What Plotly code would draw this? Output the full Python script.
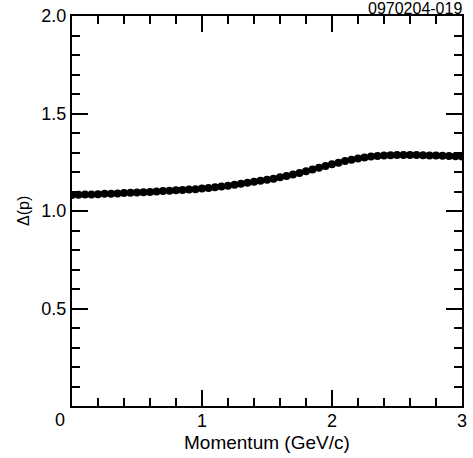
import plotly.graph_objects as go

momentum = [0.00, 0.05, 0.10, 0.15, 0.20, 0.25, 0.30, 0.35, 0.40, 0.45,
            0.50, 0.55, 0.60, 0.65, 0.70, 0.75, 0.80, 0.85, 0.90, 0.95,
            1.00, 1.05, 1.10, 1.15, 1.20, 1.25, 1.30, 1.35, 1.40, 1.45,
            1.50, 1.55, 1.60, 1.65, 1.70, 1.75, 1.80, 1.85, 1.90, 1.95,
            2.00, 2.05, 2.10, 2.15, 2.20, 2.25, 2.30, 2.35, 2.40, 2.45,
            2.50, 2.55, 2.60, 2.65, 2.70, 2.75, 2.80, 2.85, 2.90, 2.95, 3.00]
delta = [1.082, 1.083, 1.084, 1.085, 1.086, 1.088, 1.089, 1.090, 1.092, 1.093,
         1.095, 1.096, 1.098, 1.100, 1.102, 1.104, 1.106, 1.108, 1.110, 1.112,
         1.115, 1.118, 1.122, 1.126, 1.130, 1.135, 1.140, 1.145, 1.150, 1.155,
         1.160, 1.166, 1.173, 1.180, 1.187, 1.195, 1.204, 1.213, 1.222, 1.231,
         1.240, 1.248, 1.256, 1.263, 1.269, 1.275, 1.279, 1.282, 1.285, 1.286,
         1.287, 1.287, 1.287, 1.287, 1.286, 1.285, 1.284, 1.283, 1.282, 1.281, 1.280]

x_tickvals = [1, 2, 3]
x_ticktext = ["1", "2", "3"]
y_tickvals = [0.5, 1.0, 1.5, 2.0]
y_ticktext = ["0.5", "1.0", "1.5", "2.0"]

FONT = "Liberation Sans, Arial, Helvetica, sans-serif"

fig = go.Figure()
fig.add_trace(go.Scatter(
    x=momentum, y=delta, mode="markers",
    marker=dict(color="black", size=8, line=dict(width=0)),
    showlegend=False,
))

axis_common = dict(
    showline=True, linecolor="black", linewidth=2, mirror="allticks",
    ticks="inside", ticklen=16, tickwidth=1.5, tickcolor="black",
    showgrid=False, zeroline=False, automargin=False,
    tickfont=dict(family=FONT, size=18, color="black"),
)

fig.update_layout(
    template="none",
    width=473, height=458,
    margin=dict(l=72, r=11, t=16, b=52),
    paper_bgcolor="white", plot_bgcolor="white",
    xaxis=dict(
        range=[0, 3], tickvals=x_tickvals, ticktext=x_ticktext, ticklabelstandoff=-3,
        minor=dict(dtick=0.2, tick0=0, ticks="inside", ticklen=8, tickwidth=1.5, tickcolor="black"),
        **axis_common,
    ),
    yaxis=dict(
        range=[0, 2], tickvals=y_tickvals, ticktext=y_ticktext,
        minor=dict(dtick=0.1, tick0=0, ticks="inside", ticklen=8, tickwidth=1.5, tickcolor="black"),
        **axis_common,
    ),
    annotations=[
        dict(text="0", x=0, y=0, xref="paper", yref="paper", xanchor="center", yanchor="top",
             xshift=-12, yshift=-2, showarrow=False, font=dict(family=FONT, size=18, color="black")),
        dict(text="Momentum (GeV/c)", x=0.5, y=0, xref="paper", yref="paper",
             xanchor="center", yanchor="middle", yshift=-36, showarrow=False,
             font=dict(family=FONT, size=19, color="black")),
        dict(text="Δ(p)", x=(23 - 72) / 390, y=0.5, xref="paper", yref="paper", showarrow=False,
             xanchor="center", yanchor="middle",
             textangle=-90, font=dict(family=FONT, size=16, color="black")),
        dict(text="0970204-019", x=1, y=1, xref="paper", yref="paper", xanchor="right", yanchor="bottom",
             showarrow=False, xshift=2, yshift=-3, font=dict(family=FONT, size=16, color="black")),
    ],
)

fig.write_html("out.html")
